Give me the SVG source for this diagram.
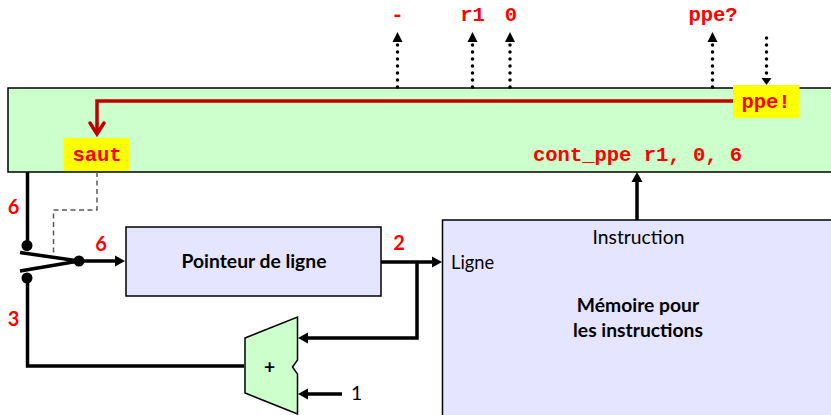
<svg xmlns="http://www.w3.org/2000/svg" width="831" height="415" viewBox="0 0 831 415">
<style>
.box{stroke:#000;stroke-width:1.5}
.green{fill:#ccffcc}
.lav{fill:#e5e5ff}
.yel{fill:#ffff00;stroke:none}
.code{font-family:"Liberation Mono",monospace;font-weight:700;font-size:20.5px;fill:#ff0000}
.num{font-family:Lato,"Open Sans",sans-serif;font-weight:700;font-size:20px;fill:#ff0000}
.lbl{font-family:Lato,"Open Sans",sans-serif;font-size:19.300px;fill:#000}
.bold{font-weight:700}
.w{fill:none;stroke:#000;stroke-width:3.5}
.dot{fill:none;stroke:#000;stroke-width:3.5;stroke-dasharray:0 7;stroke-linecap:round}
</style>
<rect width="831" height="415" fill="#fff"/>
<g id="bus"><path class="box green" d="M832 88H8V172H832"/></g>
<g id="memoire"><path class="box lav" d="M832 220H442.500V416H832"/>
<text class="lbl" x="638.500" y="244" text-anchor="middle">Instruction</text>
<text class="lbl" x="451" y="269" style="font-size:18.300px">Ligne</text>
<text class="lbl bold" x="638" y="312" text-anchor="middle">Mémoire pour</text>
<text class="lbl bold" x="638" y="337" text-anchor="middle">les instructions</text></g>
<g id="pointeur"><rect class="box lav" x="126" y="227" width="255" height="69"/>
<text class="lbl bold" x="254" y="268" text-anchor="middle">Pointeur de ligne</text></g>
<g id="additionneur"><path class="box green" d="M245 338L297.500 317V360L292.500 367L297.500 374V414L245 393Z"/>
<text class="lbl bold" x="269.500" y="374" text-anchor="middle">+</text></g>
<g id="connecteurs">
<path class="w" d="M27.500 172V245"/>
<path class="w" d="M27.500 278V366H244"/>
<path class="w" d="M20 252.500L79 261L20 271"/>
<circle cx="27" cy="245.500" r="5.500"/><circle cx="27" cy="278" r="5.500"/><circle cx="79" cy="261" r="5.500"/>
<path class="w" d="M79 261H116"/><path d="M125 261L115 255.500V266.500Z"/>
<path class="w" d="M381 262H433"/><path d="M442 262L432 256.500V267.500Z"/>
<path class="w" d="M417 262V338H308"/><path d="M298 338L308 332.500V343.500Z"/>
<path class="w" d="M342 394H308"/><path d="M298 394L308 388.500V399.500Z"/>
<path class="w" d="M637 220V182"/><path d="M637 172L631.500 182H642.500Z"/>
<path d="M97 172V210H53.500V253" fill="none" stroke="#595959" stroke-width="1.500" stroke-dasharray="5 3.500"/>
<path class="dot" d="M397.500 87V44"/><path d="M397.500 32L392.500 42H402.500Z"/>
<path class="dot" d="M472.500 87V44"/><path d="M472.500 32L467.500 42H477.500Z"/>
<path class="dot" d="M510 87V44"/><path d="M510 32L505 42H515Z"/>
<path class="dot" d="M712.500 87V44"/><path d="M712.500 32L707.500 42H717.500Z"/>
<path class="dot" d="M766.500 38V76"/><path d="M766.500 85L761.500 78H771.500Z"/>
<path d="M733 101H97V133" fill="none" stroke="#c00000" stroke-width="3.500"/>
<path d="M90 123L97 134L104 123" fill="none" stroke="#c00000" stroke-width="3.500" stroke-linecap="round"/>
</g>
<g id="saut"><rect class="yel" x="63.500" y="138" width="66.500" height="33"/><text class="code" x="97" y="161" text-anchor="middle">saut</text></g>
<g id="ppe"><rect class="yel" x="733" y="85" width="66.500" height="33"/><text class="code" x="766" y="108" text-anchor="middle">ppe!</text></g>
<g id="textes">
<text class="code" x="397.500" y="21" text-anchor="middle">-</text>
<text class="code" x="472.500" y="21" text-anchor="middle">r1</text>
<text class="code" x="511" y="21" text-anchor="middle">0</text>
<text class="code" x="713" y="21" text-anchor="middle">ppe?</text>
<text class="code" x="533" y="161">cont_ppe r1, 0, 6</text>
<text class="num" x="13.500" y="214" text-anchor="middle">6</text>
<text class="num" x="101" y="251" text-anchor="middle">6</text>
<text class="num" x="13.500" y="326" text-anchor="middle">3</text>
<text class="num" x="399" y="250" text-anchor="middle">2</text>
<text class="lbl" x="351" y="400">1</text>
</g>
</svg>
